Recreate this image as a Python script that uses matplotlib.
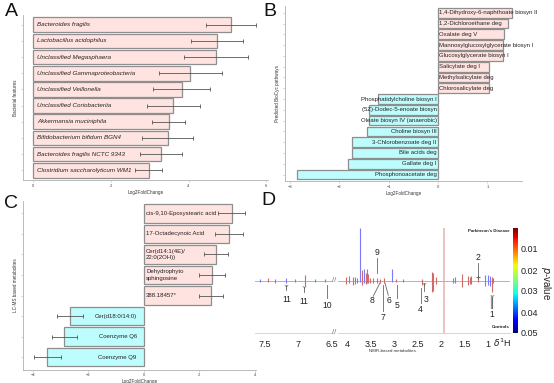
import numpy as np
import matplotlib.pyplot as plt
from matplotlib.colors import Normalize
from matplotlib.colorbar import ColorbarBase

plt.rcParams['font.family'] = ['Liberation Sans', 'DejaVu Sans']

# ---- panel A: bacterial features
bact_names = ['Bacteroides fragilis', 'Lactobacillus acidophilus', 'Unclassified Megasphaera',
              'Unclassified Gammaproteobacteria', 'Unclassified Veillonella',
              'Unclassified Coriobacteriia', 'Akkermansia muciniphila',
              'Bifidobacterium bifidum BGN4', 'Bacteroides fragilis NCTC 9343',
              'Clostridium saccharolyticum WM1']
bact_lfc = [5.09, 4.73, 4.71, 4.05, 3.82, 3.61, 3.49, 3.46, 3.29, 2.97]
bact_err = [0.65, 0.67, 0.83, 0.82, 0.73, 0.69, 0.43, 0.66, 0.55, 0.35]

# ---- panel B: predicted pathways
path_names = ['1,4-Dihydroxy-6-naphthoate biosyn II', '1,2-Dichloroethane deg', 'Oxalate deg V',
              'Mannosylglucosylglycerate biosyn I', 'Glucosylglycerate biosyn I',
              'Salicylate deg I', 'Methylsalicylate deg', 'Chlorosalicylate deg',
              'Phosphatidylcholine biosyn I', '(5Z)-Dodec-5-enoate biosyn',
              'Oleate biosyn IV (anaerobic)', 'Choline biosyn III', '3-Chlorobenzoate deg II',
              'Bile acids deg', 'Gallate deg I', 'Phosphonoacetate deg']
path_lfc = [1.50, 1.42, 1.33, 1.32, 1.32, 1.04, 1.04, 1.04,
            -1.22, -1.39, -1.39, -1.43, -1.74, -1.74, -1.83, -2.86]

# ---- panel C: LC-MS metabolites
lcms_names = ['cis-9,10-Epoxystearic acid', '17-Octadecynoic Acid', 'Cer(d14:1(4E)/\n22:0(2OH))',
              'Dehydrophyto\nsphingosine', '388.18457*', 'Cer(d18:0/14:0)', 'Coenzyme Q6',
              'Coenzyme Q9']
lcms_lfc = [3.17, 3.08, 2.61, 2.46, 2.43, -2.67, -2.87, -3.48]
lcms_err = [0.50, 0.50, 0.44, 0.46, 0.44, 0.47, 0.45, 0.49]

# ---- panel D: NMR loadings (peak sticks: ppm, top, bottom, colour)
nmr_ppm = [7.58, 7.45, 7.35, 7.18, 7.05, 6.90, 6.75, 6.60,
           4.02, 3.95, 3.88, 3.82, 3.78, 3.72, 3.67, 3.63, 3.60, 3.58, 3.56, 3.50, 3.45,
           3.37, 3.30, 3.22, 3.05, 2.95, 2.80, 2.41, 2.19, 2.17, 2.10, 1.75, 1.70, 1.56,
           1.43, 1.38, 1.35, 1.21, 1.06, 1.00, 0.96, 0.92, 0.90]
nmr_top = [0.03, 0.04, 0.03, 0.04, 0.03, 0.11, 0.03, 0.02,
           0.06, 0.08, 0.07, 0.06, 0.05, 1.00, 0.20, 0.22, 0.15, 0.21, 0.12, 0.05, 0.05,
           0.04, 0.03, 0.04, 0.22, 0.03, 0.03, 0.02, 0.17, 0.15, 0.07, 0.05, 0.06, 0.12,
           0.08, 0.07, 0.08, 0.08, 0.10, 0.10, 0.08, 0.06, 0.04]
nmr_bot = [-0.03, -0.03, -0.04, -0.05, -0.03, -0.11, -0.03, -0.02,
           -0.06, -0.05, -0.08, -0.07, -0.05, -0.02, -0.08, -0.05, -0.06, -0.04, -0.05, -0.04, -0.05,
           -0.05, -0.05, -0.04, -0.03, -0.03, -0.03, -0.08, -0.22, -0.20, -0.07, -0.05, -0.04, -0.12,
           -0.08, -0.06, -0.07, -0.02, -0.10, -0.08, -0.10, -0.22, -0.05]
nmr_col = ['b', 'r', 'b', 'b', 'b', 'r', 'b', 'b',
           'r', 'b', 'r', 'r', 'b', 'b', 'r', 'b', 'r', 'b', 'r', 'r', 'r',
           'r', 'r', 'r', 'b', 'r', 'r', 'r', 'r', 'r', 'r', 'b', 'b', 'r',
           'r', 'r', 'r', 'r', 'b', 'b', 'b', 'r', 'r']
peak_ids = ['11', '11', '10', '9', '8', '7', '6', '5', '4', '3', '2', '1']
peak_ppm = [7.18, 6.92, 6.57, 3.37, 3.47, 3.24, 3.11, 2.93, 2.43, 2.32, 1.21, 0.92]

W, H = 554, 383
PINK = '#ffe3e0'
CYAN = '#bdfdfd'
EDGE = '#8e8e8e'


def box(l, t, r, b):
    return [l / W, 1 - b / H, (r - l) / W, (b - t) / H]


fig = plt.figure(figsize=(W / 100, H / 100), dpi=100)


def bar_panel(rect, names, vals, errs, xlim, xticks, ylabel, fs, italic, pos_off, neg_off):
    ax = fig.add_axes(rect)
    y = np.arange(len(vals))
    cols = [PINK if v > 0 else CYAN for v in vals]
    ax.barh(y, vals, height=0.9, color=cols, edgecolor=EDGE, linewidth=0.9)
    if errs is not None:
        ax.errorbar(vals, y, xerr=errs, fmt='none', ecolor='#555555', elinewidth=0.6,
                    capsize=1.6, capthick=0.6)
    for yi, v, n in zip(y, vals, names):
        if v > 0:
            ax.annotate(n, (0, yi), xytext=(pos_off, 0), textcoords='offset points',
                        ha='left', va='center', fontsize=fs, color='#222222',
                        style='italic' if italic else 'normal', linespacing=1.3)
        else:
            ax.annotate(n, (0, yi), xytext=(neg_off, 0), textcoords='offset points',
                        ha='right', va='center', fontsize=fs, color='#222222', linespacing=1.3)
    ax.set_ylim(len(vals) - 0.4, -0.6)
    ax.set_xlim(*xlim)
    ax.set_xticks(xticks)
    ax.set_yticks(y)
    ax.set_yticklabels([])
    for s in ['top', 'right']:
        ax.spines[s].set_visible(False)
    for s in ['left', 'bottom']:
        ax.spines[s].set_color('#b0b0b0')
        ax.spines[s].set_linewidth(0.6)
    ax.tick_params(length=1.5, width=0.4, color='#b0b0b0', labelsize=3, pad=1.2,
                   labelcolor='#444444')
    ax.set_xlabel('Log2FoldChange', fontsize=3.3, labelpad=1.5, color='#333333')
    ax.set_ylabel(ylabel, fontsize=3.3, labelpad=1, color='#333333')
    return ax


bar_panel(box(23, 15, 268, 180), bact_names, bact_lfc, bact_err, (-0.27, 6.05),
          [0, 2, 4, 6], 'Bacterial features', 4.5, True, 2.8, 0)
bar_panel(box(285, 6.3, 522, 181), path_names, path_lfc, None, (-3.1, 1.7),
          [-3, -2, -1, 0, 1], 'Predicted BioCyc pathways', 4.3, False, 1.0, -1.0)
bar_panel(box(22.7, 201, 256, 369.5), lcms_names, lcms_lfc, lcms_err, (-4.36, 4.05),
          [-4, -2, 0, 2, 4], 'LC-MS based metabolites', 4.3, False, 1.8, -5.0)

# ---- panel D
axl = fig.add_axes(box(255, 228, 333, 333))
axr = fig.add_axes(box(338, 228, 510, 333))
axl.set_xlim(7.65, 6.48)
axr.set_xlim(4.19, 0.53)
cmap_col = {'b': '#7a7aff', 'r': '#d06a6a'}
for ax in (axl, axr):
    ax.set_ylim(-1, 1)
    lo, hi = sorted(ax.get_xlim())
    ax.axhline(0, color='#a8a8ff', lw=0.7, zorder=1)
    for p, t, b, c in zip(nmr_ppm, nmr_top, nmr_bot, nmr_col):
        if lo <= p <= hi:
            ax.vlines(p, b, t, color=cmap_col[c], lw=0.8, zorder=2)
    for s in ['top', 'right', 'left']:
        ax.spines[s].set_visible(False)
    ax.spines['bottom'].set_color('#cfcfcf')
    ax.spines['bottom'].set_linewidth(0.6)
    ax.set_yticks([])
    ax.tick_params(axis='x', length=0, labelsize=6.5, pad=5, labelcolor='#222222')
axl.set_xticks([7.5, 7, 6.5])
axl.set_xticklabels(['7.5', '7', '6.5'])
axr.set_xticks([4, 3.5, 3, 2.5, 2, 1.5, 1])
axr.set_xticklabels(['4', '3.5', '3', '2.5', '2', '1.5', '1'])
axr.axvspan(1.955, 1.91, color='#e8b4b4', alpha=0.8, lw=0, zorder=0)

# peak number annotations: (label y, line from, line to)
ann_text_y = [-0.37, -0.40, -0.47, 0.53, -0.39, -0.70, -0.39, -0.47, -0.55, -0.36, 0.43, -0.64]
ann_line = [((7.18, -0.09), (7.18, -0.18)), ((6.92, -0.12), (6.92, -0.22)),
            ((6.57, -0.09), (6.57, -0.33)), ((3.37, 0.14), (3.37, 0.43)),
            ((3.30, -0.05), (3.44, -0.30)), ((3.24, -0.09), (3.24, -0.59)),
            ((3.19, -0.05), (3.12, -0.28)), ((2.93, -0.09), (2.93, -0.33)),
            ((2.43, -0.14), (2.43, -0.42)), ((2.36, -0.05), (2.36, -0.20)),
            ((1.21, 0.06), (1.21, 0.34)), ((0.92, -0.31), (0.92, -0.53))]
for lab, p, ty, ln in zip(peak_ids, peak_ppm, ann_text_y, ann_line):
    ax = axl if p > 5 else axr
    (x0, y0), (x1, y1) = ln
    ax.plot([x0, x1], [y0, y1], color='#666666', lw=0.6, zorder=3)
    ax.text(p, ty, lab, ha='center', va='center', fontsize=6.2, color='#222222')
for p, yv in [(7.18, -0.10), (6.92, -0.13), (2.36, -0.06), (0.92, -0.30)]:
    (axl if p > 5 else axr).plot(p, yv, marker='1', ms=3, color='#777777', mew=0.6)
axr.plot(1.21, 0.06, marker='+', ms=3, color='#555555', mew=0.6)
axr.plot([0.92, 0.92], [-0.31, -0.53], color='#999999', lw=1.6, zorder=2)

fig.text(510 / W, 1 - 231 / H, "Parkinson's Disease", fontsize=3.2, fontweight='bold',
         ha='right', va='center', color='#222222')
fig.text(510 / W, 1 - 327 / H, 'Controls', fontsize=3.2, fontweight='bold',
         ha='right', va='center', color='#222222')
fig.text(392 / W, 1 - 351 / H, 'NMR-based metabolites', fontsize=3.2, ha='center',
         va='center', color='#333333')
fig.text(493 / W, 1 - 343 / H, r'$\delta^1$H', fontsize=6.5, ha='left', va='center',
         color='#222222')
for yy in (281, 332):
    fig.text(334 / W, 1 - yy / H, '//', fontsize=5.5, ha='center', va='center',
             color='#777777')

cax = fig.add_axes(box(513, 228, 517.5, 333))
cb = ColorbarBase(cax, cmap=plt.get_cmap('jet_r'), norm=Normalize(0, 0.05))
cax.invert_yaxis()
cb.set_ticks([0.01, 0.02, 0.03, 0.04, 0.05])
cb.set_ticklabels(['0.01', '0.02', '0.03', '0.04', '0.05'])
cb.outline.set_visible(False)
cax.tick_params(length=0, labelsize=6.5, pad=2, labelcolor='#222222')
fig.text(546 / W, 1 - 283 / H, '$p$-value', rotation=270, fontsize=7, ha='center',
         va='center', color='#222222')

# panel letters
for lab, x, y in [('A', 11, 12), ('B', 270, 12), ('C', 11, 203), ('D', 268, 201)]:
    fig.text(x / W, 1 - y / H, lab, fontsize=14, ha='center', va='center', color='#111111')

fig.savefig('out.png', dpi=100)
